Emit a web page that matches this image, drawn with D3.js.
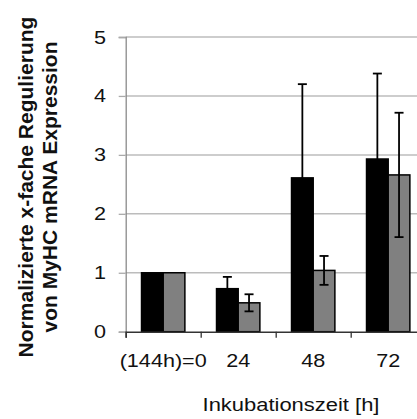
<!DOCTYPE html>
<html>
<head>
<meta charset="utf-8">
<script src="https://cdn.jsdelivr.net/npm/d3@7"></script>
<style>
  html, body { margin: 0; padding: 0; background: #fff; }
  svg { display: block; font-family: "Liberation Sans", Arial, sans-serif; }
</style>
</head>
<body>
<svg id="chart" width="417" height="419"></svg>
<script>
// Incubation time points (hours)
const categories = ["(144h)=0", "24", "48", "72"];
// Normalized fold regulation of MyHC mRNA, two conditions
const seriesBlack = [1.0, 0.73, 2.61, 2.93];
const seriesBlackErr = [0, 0.20, 1.59, 1.45];
const seriesGray = [1.0, 0.49, 1.04, 2.66];
const seriesGrayErr = [0, 0.145, 0.245, 1.055];
const yTicks = [0, 1, 2, 3, 4, 5];

const svg = d3.select("#chart");
const plotLeft = 125.7, plotRight = 425.7, plotTop = 37, plotBottom = 331.7;
const stretch = 1.2;

const x = d3.scaleBand().domain(categories).range([plotLeft, plotRight]).padding(0);
const y = d3.scaleLinear().domain([0, 5]).range([plotBottom, plotTop]);
const groupW = x.bandwidth() * 0.578;
const sub = d3.scaleBand().domain(["a", "b"])
  .range([-groupW / 2, groupW / 2]).padding(0);

// horizontal gridlines
svg.append("g").selectAll("line").data(yTicks.filter(d => d > 0)).join("line")
  .attr("x1", plotLeft).attr("x2", plotRight)
  .attr("y1", d => y(d)).attr("y2", d => y(d))
  .attr("stroke", "#bcbcbc").attr("stroke-width", 1.5);

// y axis
const yAxis = svg.append("g").attr("transform", `translate(${plotLeft},0)`)
  .call(d3.axisLeft(y).tickValues(yTicks).tickSize(7).tickFormat(""));
yAxis.select(".domain").attr("stroke", "#8a8a8a").attr("stroke-width", 1.3);
yAxis.selectAll(".tick line").attr("stroke", "#aaaaaa").attr("stroke-width", 1.3);

svg.append("g").selectAll("text").data(yTicks).join("text")
  .attr("transform", d => `translate(106,${y(d) + 6.5}) scale(${stretch},1)`)
  .attr("text-anchor", "end")
  .attr("font-size", 18).attr("fill", "#111")
  .text(d => d);

// data
const rows = categories.map((c, i) => ({
  c,
  bars: [
    { k: "a", v: seriesBlack[i], e: seriesBlackErr[i], fill: "#000" },
    { k: "b", v: seriesGray[i], e: seriesGrayErr[i], fill: "#808080" }
  ]
}));

const groups = svg.append("g").selectAll("g").data(rows).join("g")
  .attr("transform", d => `translate(${x(d.c) + x.bandwidth() / 2},0)`);

groups.selectAll("rect").data(d => d.bars).join("rect")
  .attr("x", d => sub(d.k)).attr("width", sub.bandwidth())
  .attr("y", d => y(d.v)).attr("height", d => y(0) - y(d.v))
  .attr("fill", d => d.fill).attr("stroke", "#000").attr("stroke-width", 1.5);

// error bars
const eb = groups.selectAll("g.err").data(d => d.bars.filter(b => b.e > 0)).join("g")
  .attr("class", "err")
  .attr("transform", d => `translate(${sub(d.k) + sub.bandwidth() / 2},0)`);
eb.append("line")
  .attr("y1", d => y(d.v - d.e)).attr("y2", d => y(d.v + d.e))
  .attr("stroke", "#000").attr("stroke-width", 1.8);
eb.selectAll("line.cap").data(d => [d.v - d.e, d.v + d.e]).join("line")
  .attr("class", "cap")
  .attr("x1", -4.5).attr("x2", 4.5)
  .attr("y1", d => y(d)).attr("y2", d => y(d))
  .attr("stroke", "#000").attr("stroke-width", 1.8);

// x axis
const xAxis = svg.append("g").attr("transform", `translate(0,${plotBottom})`)
  .call(d3.axisBottom(d3.scaleLinear().domain([0, 4]).range([plotLeft, plotRight]))
    .tickValues([0, 1, 2, 3, 4]).tickSize(6).tickFormat(""));
xAxis.select(".domain").attr("stroke", "#333").attr("stroke-width", 1.5);
xAxis.selectAll(".tick line").attr("stroke", "#333").attr("stroke-width", 1.3);

svg.append("g").selectAll("text").data(categories).join("text")
  .attr("transform", d => `translate(${x(d) + x.bandwidth() / 2},366.7) scale(${stretch},1)`)
  .attr("text-anchor", "middle")
  .attr("font-size", 18).attr("fill", "#111")
  .text(d => d);

// axis titles
svg.append("text")
  .attr("transform", `translate(291,410.7) scale(${stretch},1)`)
  .attr("text-anchor", "middle").attr("font-size", 18.3).attr("fill", "#111")
  .text("Inkubationszeit [h]");

const yTitle = svg.append("text")
  .attr("transform", "translate(0,187) rotate(-90)")
  .attr("text-anchor", "middle").attr("font-size", 21).attr("font-weight", "bold")
  .attr("fill", "#111");
yTitle.append("tspan").attr("x", 0).attr("y", 33).text("Normalizierte x-fache Regulierung");
yTitle.append("tspan").attr("x", 0).attr("y", 57).text("von MyHC mRNA Expression");
</script>
</body>
</html>
